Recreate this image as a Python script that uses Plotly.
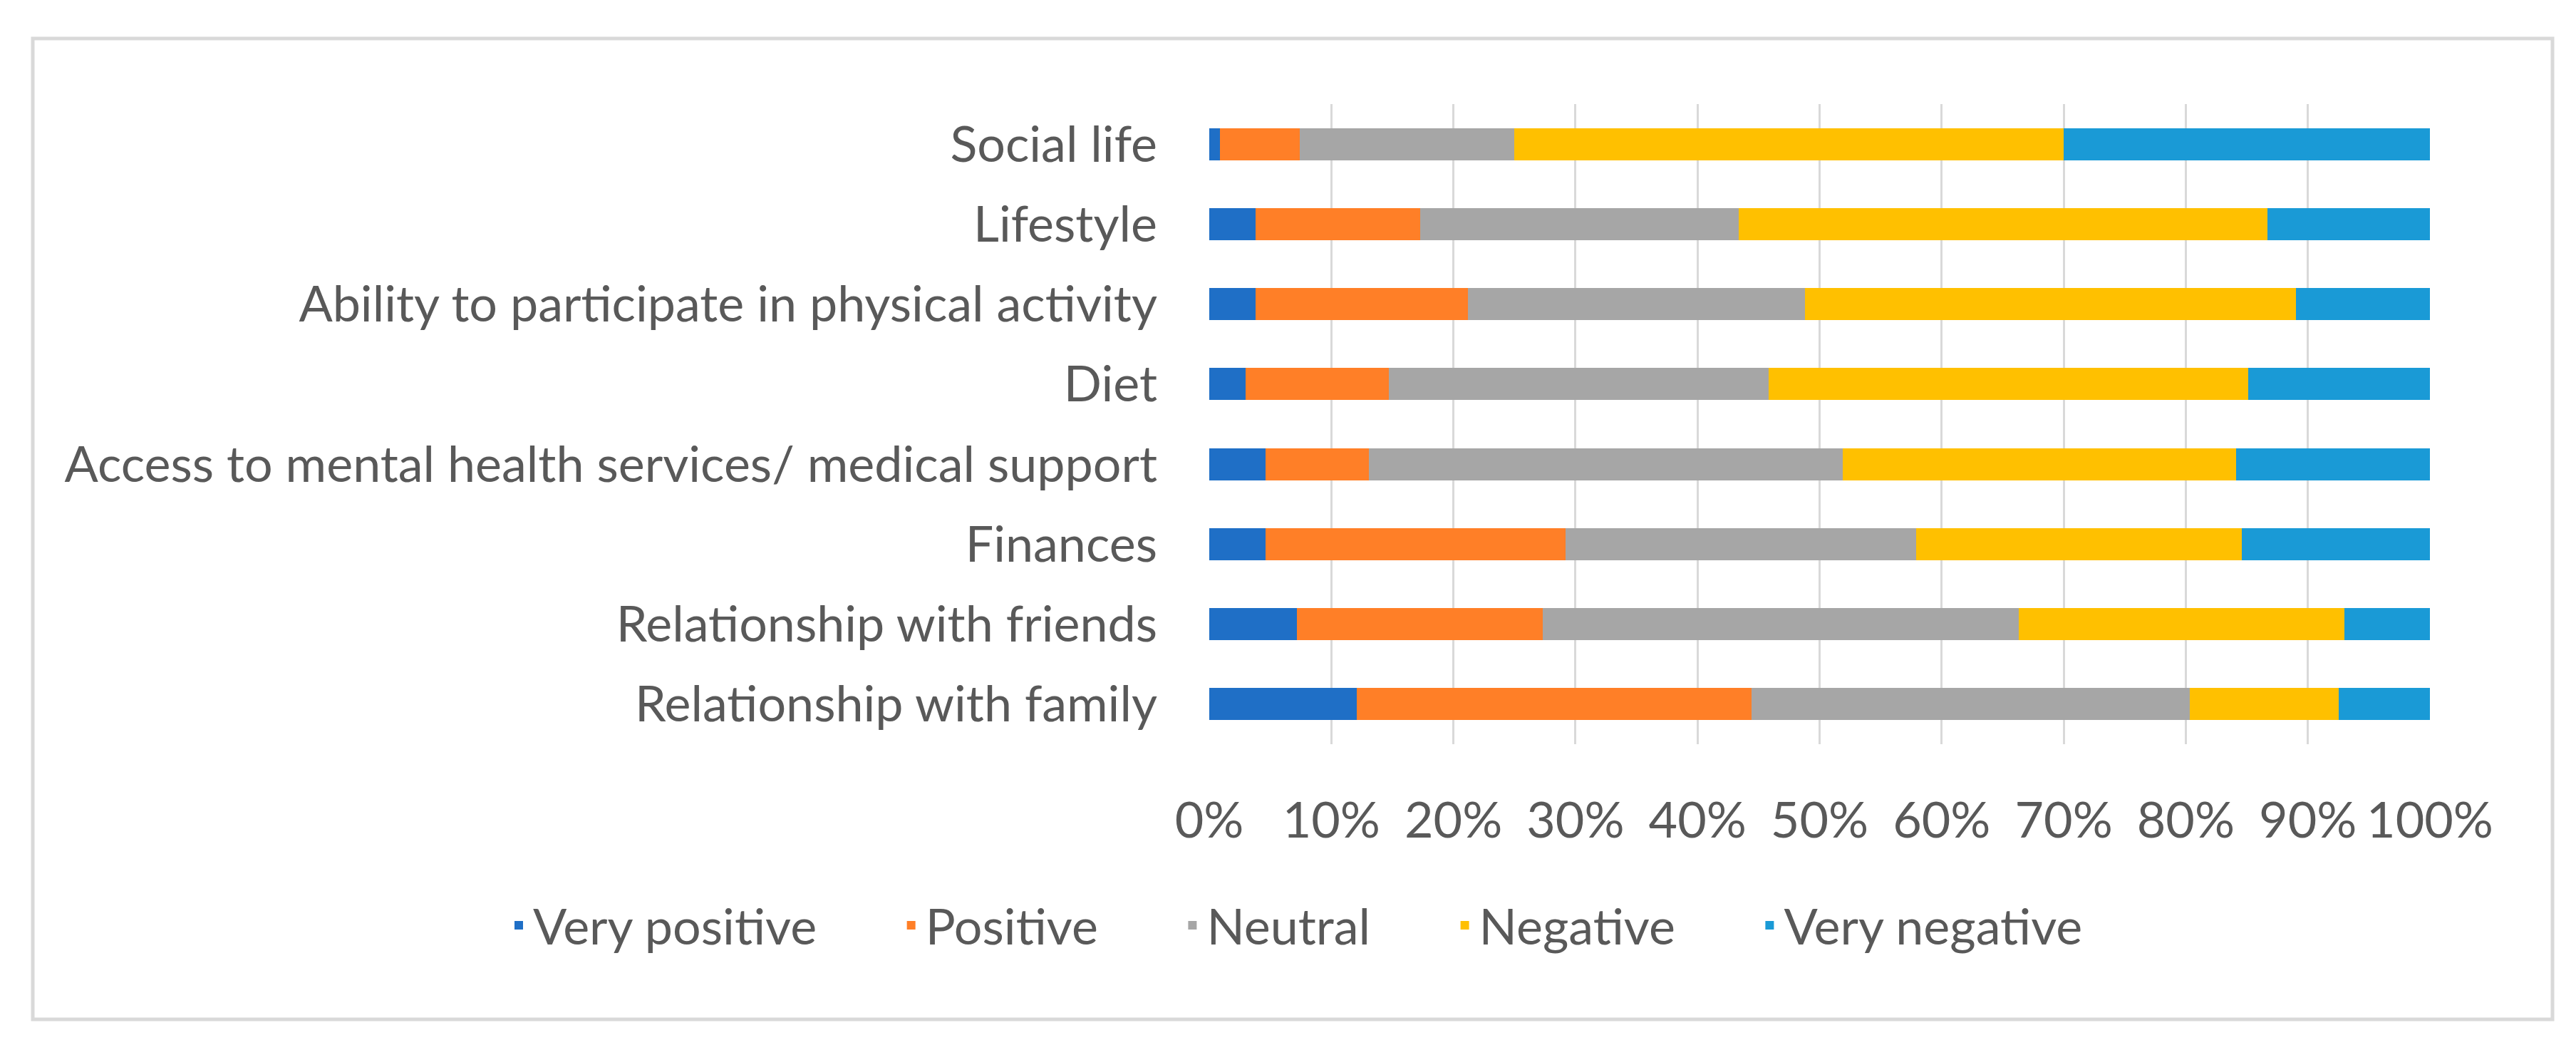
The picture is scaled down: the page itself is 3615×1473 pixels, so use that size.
import plotly.graph_objects as go

categories = [
    "Relationship with family",
    "Relationship with friends",
    "Finances",
    "Access to mental health services/ medical support",
    "Diet",
    "Ability to participate in physical activity",
    "Lifestyle",
    "Social life",
]

very_positive = [12.1, 7.2, 4.6, 4.6, 3.0, 3.8, 3.8, 0.9]
positive      = [32.3, 20.1, 24.6, 8.5, 11.7, 17.4, 13.5, 6.5]
neutral       = [35.9, 39.0, 28.7, 38.8, 31.1, 27.6, 26.1, 17.6]
negative      = [12.2, 26.7, 26.7, 32.2, 39.3, 40.2, 43.3, 45.0]
very_negative = [7.5, 7.0, 15.4, 15.9, 14.9, 11.0, 13.3, 30.0]

series_names = ["Very positive", "Positive", "Neutral", "Negative", "Very negative"]
series_values = [very_positive, positive, neutral, negative, very_negative]
colors = ["#1F6FC6", "#FF7F27", "#A6A6A6", "#FFC000", "#1A9AD6"]

x_tick_vals = [0, 10, 20, 30, 40, 50, 60, 70, 80, 90, 100]
x_tick_text = ["0%", "10%", "20%", "30%", "40%", "50%", "60%", "70%", "80%", "90%", "100%"]

FONT = "Lato"
TXT = "#595959"
FS = 70
PAD = "\u00a0" * 6

fig = go.Figure()
totals = [sum(v[i] for v in series_values) for i in range(len(categories))]
for k, (name, vals, col) in enumerate(zip(series_names, series_values, colors)):
    fig.add_trace(go.Bar(
        y=categories,
        x=[v / t * 100 for v, t in zip(vals, totals)],
        name=name + (PAD if k < len(series_names) - 1 else ""),
        orientation="h",
        marker=dict(color=col, line=dict(width=0)),
        hovertemplate=name + ": %{x:.1f}%<extra></extra>",
    ))

W, H = 3615, 1473
L, R, T, B = 1689, 213, 138, 437
pw, ph = W - L - R, H - T - B

def px_x(p):
    return (p - L) / pw

def px_y(p):
    return (H - B - p) / ph

fig.update_layout(
    width=W, height=H,
    margin=dict(l=L, r=R, t=T, b=B, pad=0),
    barmode="stack",
    bargap=0.6,
    plot_bgcolor="white",
    paper_bgcolor="white",
    font=dict(family=FONT, size=FS, color=TXT),
    showlegend=True,
    legend=dict(
        orientation="h",
        x=px_x(700), xanchor="left",
        y=px_y(1290), yanchor="middle",
        font=dict(family=FONT, size=FS, color=TXT),
        itemwidth=30,
        traceorder="normal",
        bgcolor="rgba(0,0,0,0)",
    ),
    xaxis=dict(
        range=[0, 100],
        tickvals=x_tick_vals,
        ticktext=x_tick_text,
        showgrid=True,
        gridcolor="#D9D9D9",
        gridwidth=3,
        zeroline=False,
        showline=False,
        ticks="",
        ticklabelstandoff=60,
        tickfont=dict(family=FONT, size=FS, color=TXT),
        fixedrange=True,
    ),
    yaxis=dict(
        categoryorder="array",
        categoryarray=categories,
        showgrid=False,
        zeroline=False,
        showline=False,
        ticks="",
        ticklabelstandoff=72,
        tickfont=dict(family=FONT, size=FS, color=TXT),
        fixedrange=True,
    ),
    shapes=[dict(
        type="rect", xref="paper", yref="paper",
        x0=px_x(38), x1=px_x(3574), y0=px_y(1422), y1=px_y(46),
        line=dict(color="#D9D9D9", width=5),
        fillcolor="rgba(0,0,0,0)",
        layer="below",
    )],
)

fig.write_html("out.html")
